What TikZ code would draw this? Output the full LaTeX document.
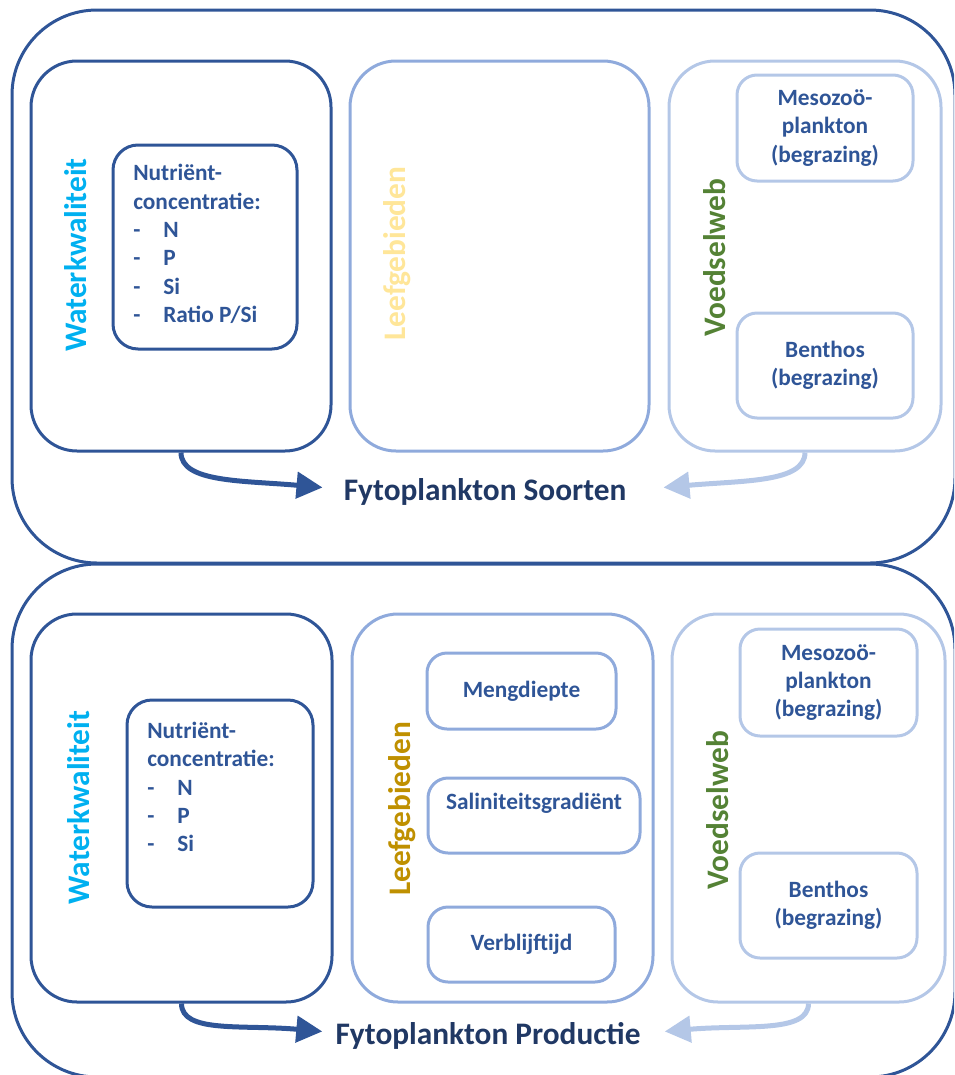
\documentclass[tikz,border=0pt]{standalone}
\usepackage{fontspec}
\setmainfont{Carlito}
\usetikzlibrary{arrows.meta}
\definecolor{navy}{HTML}{2F5597}
\definecolor{midblue}{HTML}{8FAADC}
\definecolor{paleblue}{HTML}{B4C7E7}
\definecolor{deepnavy}{HTML}{203864}
\definecolor{cyanlbl}{HTML}{00B0F0}
\definecolor{paleyellow}{HTML}{FFE699}
\definecolor{gold}{HTML}{BF9000}
\definecolor{leafgreen}{HTML}{548235}
\newcommand{\itm}[1]{\makebox[22.5pt][l]{-}#1}
\begin{document}
\begin{tikzpicture}[x=0.75pt,y=-0.75pt,
  outerbox/.style={draw=navy, line width=2.25pt, rounded corners=63.75pt,
    minimum width=707.25pt, inner sep=0pt},
  groupbox/.style={line width=2.25pt, rounded corners=34.5pt, inner sep=0pt},
  itembox/.style={line width=2.25pt, rounded corners=15pt, inner sep=0pt,
    text=navy, align=center, font=\bfseries\fontsize{17.5}{21.3}\selectfont},
  nutbox/.style={draw=navy, line width=2.25pt, rounded corners=18.75pt, inner sep=0pt},
  listtext/.style={text=navy, align=left, inner sep=0pt,
    font=\bfseries\fontsize{17.5}{21.3}\selectfont},
  sidelabel/.style={rotate=90, anchor=base, inner sep=0pt,
    font=\bfseries\fontsize{23.5}{28}\selectfont},
  result/.style={text=deepnavy, anchor=base, inner sep=0pt,
    font=\bfseries\fontsize{23.5}{28}\selectfont},
  flow/.style={line width=3.75pt, -{Triangle[length=19.5pt,width=19.5pt]}}
]
\useasboundingbox (0,0) rectangle (954,1075);
\clip (0,0) rectangle (954,1075);

% ---------- species composition ----------
\node[outerbox, minimum height=414.75pt] (soorten) at (483.5,286.5) {};

\node[groupbox, draw=navy, minimum width=225pt, minimum height=292.5pt] (wk1) at (181,256) {};
\node[groupbox, draw=midblue, minimum width=224.25pt, minimum height=292.5pt] (lg1) at (499.5,256) {};
\node[groupbox, draw=paleblue, minimum width=204pt, minimum height=292.5pt] (vw1) at (805,256) {};

\node[nutbox, minimum width=138pt, minimum height=153pt] (nut1) at (205,247) {};
\node[listtext, anchor=west] (nut1t) at (133,244)
  {Nutriënt-\\concentratie:\\\itm{N}\\\itm{P}\\\itm{Si}\\\itm{Ratio P/Si}};

\node[itembox, draw=paleblue, minimum width=132pt, minimum height=79.5pt] (meso1) at (825,128)
  {Mesozoö-\\plankton\\(begrazing)};
\node[itembox, draw=paleblue, minimum width=132pt, minimum height=78.75pt] (ben1) at (825,365.5)
  {Benthos\\(begrazing)};

\node[sidelabel, text=cyanlbl] (wk1l) at (86,255) {Waterkwaliteit};
\node[sidelabel, text=paleyellow] (lg1l) at (405,253.5) {Leefgebieden};
\node[sidelabel, text=leafgreen] (vw1l) at (725,257.5) {Voedselweb};

\node[result] (fs) at (485,500) {Fytoplankton Soorten};

\draw[flow, navy] (wk1.south) .. controls +(0,30) and +(-80,-7) .. ([shift={(-21,-4)}]fs.west);
\draw[flow, paleblue] (vw1.south) .. controls +(0,30) and +(80,-7) .. ([shift={(37,-4)}]fs.east);

% ---------- primary production ----------
\node[outerbox, minimum height=384.75pt] (productie) at (483.5,820.5) {};

\node[groupbox, draw=navy, minimum width=225.75pt, minimum height=291pt] (wk2) at (181.5,808) {};
\node[groupbox, draw=midblue, minimum width=225.75pt, minimum height=291pt] (lg2) at (502.5,808) {};
\node[groupbox, draw=paleblue, minimum width=204.75pt, minimum height=291pt] (vw2) at (808.5,808) {};

\node[nutbox, minimum width=139.5pt, minimum height=155.25pt] (nut2) at (220,803.5) {};
\node[listtext, anchor=west] (nut2t) at (147,787)
  {Nutriënt-\\concentratie:\\\itm{N}\\\itm{P}\\\itm{Si}};

\node[itembox, draw=midblue, minimum width=141.75pt, minimum height=57pt] (meng) at (521.5,691) {Mengdiepte};
\node[itembox, draw=midblue, minimum width=159pt, minimum height=56.25pt] (salin) at (534,815.5)
  {Saliniteitsgradiënt\\[-7pt]\strut};
\node[itembox, draw=midblue, minimum width=140.25pt, minimum height=56.25pt] (verbl) at (521.5,944.5) {Verblijftijd};

\node[itembox, draw=paleblue, minimum width=132.75pt, minimum height=80.25pt] (meso2) at (828.5,682.5)
  {Mesozoö-\\plankton\\(begrazing)};
\node[itembox, draw=paleblue, minimum width=132.75pt, minimum height=78.75pt] (ben2) at (828.5,905.5)
  {Benthos\\(begrazing)};

\node[sidelabel, text=cyanlbl] (wk2l) at (89,807.5) {Waterkwaliteit};
\node[sidelabel, text=gold] (lg2l) at (410,809) {Leefgebieden};
\node[sidelabel, text=leafgreen] (vw2l) at (728,810) {Voedselweb};

\node[result] (fp) at (488,1044) {Fytoplankton Productie};

\draw[flow, navy] (wk2.south) .. controls +(0,30) and +(-80,-7) .. ([shift={(-13,-4)}]fp.west);
\draw[flow, paleblue] (vw2.south) .. controls +(0,30) and +(80,-7) .. ([shift={(24,-4)}]fp.east);
\end{tikzpicture}
\end{document}
